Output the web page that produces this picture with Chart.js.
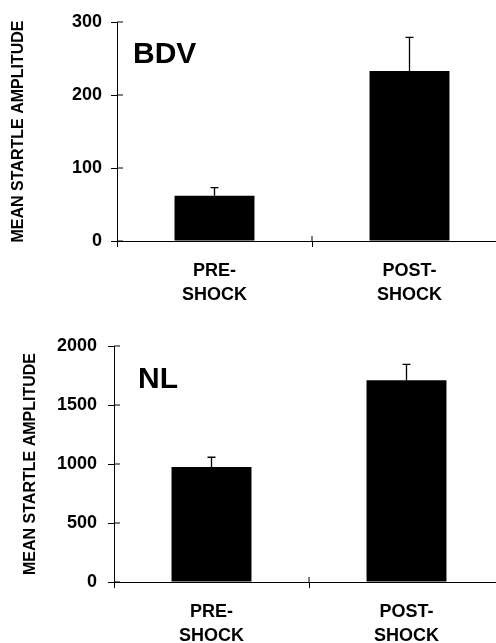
<!DOCTYPE html>
<html>
<head>
<meta charset="utf-8">
<script src="https://cdn.jsdelivr.net/npm/chart.js@4.4.0/dist/chart.umd.min.js"></script>
<style>
html, body { margin: 0; padding: 0; background: #fff; overflow: hidden; width: 496px; height: 643px; }
.box { position: absolute; left: 0; width: 510px; }
#top { top: 0; height: 320px; }
#bot { top: 320px; height: 330px; }
</style>
</head>
<body>
<div class="box" id="top"><canvas id="bdv"></canvas></div>
<div class="box" id="bot"><canvas id="nl"></canvas></div>
<script>
// data
var categories = [["PRE-", "SHOCK"], ["POST-", "SHOCK"]];
var yTitle = "MEAN STARTLE AMPLITUDE";

var bdvLabel = "BDV";
var bdvMeans = [62, 233];
var bdvErrors = [11, 46];
var bdvTicks = [0, 100, 200, 300];

var nlLabel = "NL";
var nlMeans = [975, 1710];
var nlErrors = [82, 135];
var nlTicks = [0, 500, 1000, 1500, 2000];

var FONT = '"Liberation Sans", Arial, sans-serif';

// error bars, inner tick marks and the panel name
var extras = {
  id: 'extras',
  afterDatasetsDraw: function(chart, args, opts) {
    var ctx = chart.ctx, x = chart.scales.x, y = chart.scales.y;
    var meta = chart.getDatasetMeta(0);
    var vals = chart.data.datasets[0].data;
    ctx.save();
    ctx.strokeStyle = '#000';
    ctx.lineWidth = 1.3;
    opts.errors.forEach(function(e, i) {
      var bar = meta.data[i];
      var yt = y.getPixelForValue(vals[i] + e);
      ctx.beginPath();
      ctx.moveTo(bar.x, bar.y);
      ctx.lineTo(bar.x, yt);
      ctx.moveTo(bar.x - 4, yt);
      ctx.lineTo(bar.x + 4, yt);
      ctx.stroke();
    });
    ctx.lineWidth = 1;
    y.ticks.forEach(function(t) {
      var p = y.getPixelForValue(t.value);
      ctx.beginPath();
      ctx.moveTo(x.left, p);
      ctx.lineTo(x.left + 6, p);
      ctx.stroke();
    });
    for (var i = 1; i < chart.data.labels.length; i++) {
      var px = (x.getPixelForTick(i - 1) + x.getPixelForTick(i)) / 2;
      ctx.beginPath();
      ctx.moveTo(px, y.bottom);
      ctx.lineTo(px, y.bottom - 5);
      ctx.stroke();
    }
    ctx.fillStyle = '#000';
    ctx.font = 'bold 30px ' + FONT;
    ctx.textBaseline = 'alphabetic';
    ctx.textAlign = 'left';
    ctx.fillText(opts.label, chart.chartArea.left + opts.dx, chart.chartArea.top + opts.dy);
    ctx.restore();
  }
};

function makeChart(id, means, errors, ticks, label, s) {
  return new Chart(document.getElementById(id), {
    type: 'bar',
    data: {
      labels: categories,
      datasets: [{
        data: means,
        backgroundColor: '#000',
        borderWidth: 0,
        barPercentage: 0.41,
        categoryPercentage: 1
      }]
    },
    plugins: [extras],
    options: {
      responsive: true,
      maintainAspectRatio: false,
      animation: false,
      layout: { padding: { top: s.top, right: s.right, bottom: 0, left: 0 } },
      plugins: {
        legend: { display: false },
        tooltip: { enabled: false },
        extras: { errors: errors, label: label, dx: s.dx, dy: s.dy }
      },
      scales: {
        x: {
          border: { color: '#000', width: 1 },
          grid: { drawOnChartArea: false, color: '#000', tickLength: 6 },
          ticks: {
            color: '#000', padding: 12,
            font: { family: FONT, size: 18, weight: 'bold', lineHeight: 1.333 }
          },
          afterFit: function(sc) { sc.height = s.xh; }
        },
        y: {
          min: 0,
          max: ticks[ticks.length - 1],
          afterBuildTicks: function(sc) { sc.ticks = ticks.map(function(v) { return { value: v }; }); },
          border: { color: '#000', width: 1 },
          grid: { drawOnChartArea: false, color: '#000', tickLength: 6 },
          ticks: {
            color: '#000', padding: s.tp,
            font: { family: FONT, size: 18, weight: 'bold' },
            callback: function(v) { return String(v); }
          },
          title: {
            display: true,
            text: yTitle,
            color: '#000',
            padding: { top: s.titlePad, bottom: 0 },
            font: { family: FONT, size: 16, weight: 'bold' }
          },
          afterFit: function(sc) { sc.width = s.yw; }
        }
      }
    }
  });
}

makeChart('bdv', bdvMeans, bdvErrors, bdvTicks, bdvLabel,
  { top: 22, right: 3, xh: 79, yw: 117, tp: 9, titlePad: 9, dx: 16, dy: 41 });
makeChart('nl', nlMeans, nlErrors, nlTicks, nlLabel,
  { top: 26, right: 6, xh: 68, yw: 114, tp: 11, titlePad: 21, dx: 24, dy: 42 });
</script>
</body>
</html>
